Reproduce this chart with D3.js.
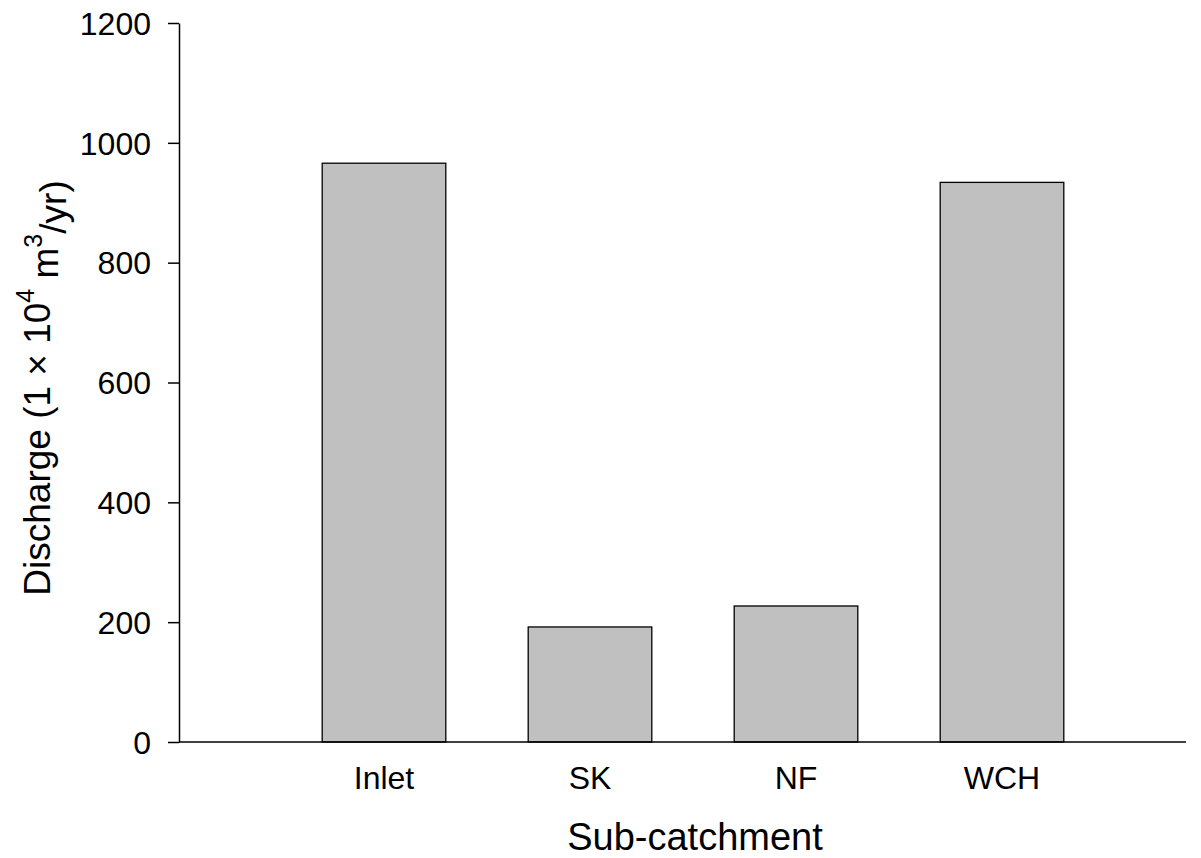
<!DOCTYPE html>
<html>
<head>
<meta charset="utf-8">
<script src="https://cdn.jsdelivr.net/npm/d3@7"></script>
<style>
body { margin: 0; background: #fff; }
text { font-family: "Liberation Sans", Arial, sans-serif; fill: #000; }
</style>
</head>
<body>
<div class="container"></div>
<script>
// chart data
var categories = ["Inlet", "SK", "NF", "WCH"];
var discharge = [966, 192, 227, 934];
var yTicks = [0, 200, 400, 600, 800, 1000, 1200];

var opts = {
	width: 1201,
	height: 858,
	left: 179,
	right: 1186,
	top: 23,
	bottom: 742
};

var svg = d3.select(".container")
.append("svg")
.attr("width", opts.width)
.attr("height", opts.height);

var x = d3.scaleBand()
.domain(categories)
.range([281, 1105])
.paddingInner(0.4)
.paddingOuter(0.2);

var y = d3.scaleLinear()
.domain([0, 1200])
.range([opts.bottom, opts.top]);

// bars
svg.append("g").selectAll("rect").data(discharge).enter().append("rect")
.attr("x", function(d, i){ return x(categories[i]); })
.attr("y", function(d){ return y(d); })
.attr("width", x.bandwidth())
.attr("height", function(d){ return y(0) - y(d); })
.style("fill", "#c0c0c0")
.style("stroke", "#000")
.style("stroke-width", 1.3);

// y axis
var yAxis = svg.append("g")
.attr("transform", "translate(" + opts.left + ",0)")
.call(d3.axisLeft(y).tickValues(yTicks).tickFormat(d3.format("d")).tickSize(11).tickPadding(17).tickSizeOuter(0));
yAxis.selectAll("text").style("font-size", "32px").attr("dy", "0.35em");
yAxis.selectAll("line, path").style("stroke", "#000").style("stroke-width", 1.5);

// x axis line
svg.append("line")
.attr("x1", opts.left).attr("x2", opts.right)
.attr("y1", opts.bottom).attr("y2", opts.bottom)
.style("stroke", "#000").style("stroke-width", 1.5);

// x labels
svg.append("g").selectAll("text").data(categories).enter().append("text")
.attr("x", function(d){ return x(d) + x.bandwidth() / 2; })
.attr("y", 789)
.attr("text-anchor", "middle")
.style("font-size", "32px")
.text(function(d){ return d; });

svg.append("text")
.attr("x", 695)
.attr("y", 850)
.attr("text-anchor", "middle")
.style("font-size", "38px")
.text("Sub-catchment");

var yl = svg.append("text")
.attr("transform", "translate(50,388) rotate(-90)")
.attr("text-anchor", "middle")
.style("font-size", "37px");
yl.append("tspan").text("Discharge (1 × 10");
yl.append("tspan").attr("dy", "-0.65em").style("font-size", "25px").text("4");
yl.append("tspan").attr("dy", "0.65em").text(" m");
yl.append("tspan").attr("dy", "-0.65em").style("font-size", "25px").text("3");
yl.append("tspan").attr("dy", "0.65em").text("/yr)");
</script>
</body>
</html>
